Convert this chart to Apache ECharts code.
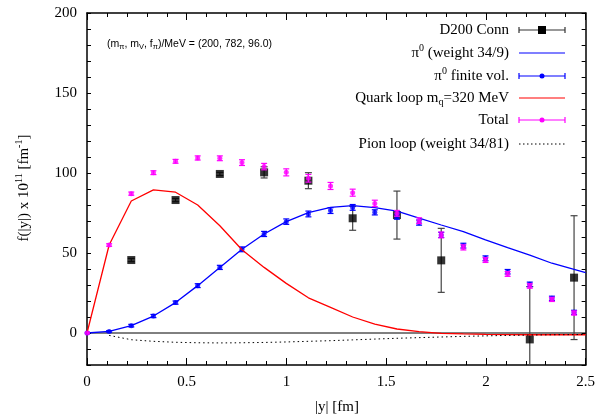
<!DOCTYPE html>
<html>
<head>
<meta charset="utf-8">
<script src="https://cdn.jsdelivr.net/npm/echarts@6/dist/echarts.min.js"></script>
<style>
  html, body { margin: 0; padding: 0; background: #fff; }
  #chart { width: 598px; height: 419px; }
</style>
</head>
<body>
<div id="chart"></div>
<script>
// sample positions |y| in fm
const xGrid = [0, 0.111, 0.222, 0.333, 0.444, 0.555, 0.666, 0.777, 0.888, 0.999, 1.11, 1.221,
  1.332, 1.443, 1.554, 1.665, 1.776, 1.887, 1.998, 2.109, 2.22, 2.331, 2.442];
const xCurve = xGrid.concat([2.5]);

// curves
const quarkLoop = [0, 55, 82.5, 89.5, 88, 80, 67, 52, 41, 31, 22, 16, 10, 5.5, 2.5, 0.8, -0.2,
  -0.6, -0.9, -1, -1.1, -1.1, -1.1, -1.1];
const pi0Curve = [0, 1, 4.6, 10.6, 19, 29.6, 41, 52.3, 61.9, 69.6, 75.2, 78.5, 79.6, 78.4, 76.2,
  71.8, 67.5, 63.3, 58.2, 53.3, 48.7, 43.6, 39.8, 37.7];
const pionLoopX = xCurve.slice(1);
const pionLoop = [-1.5, -4.2, -5.2, -5.8, -6.1, -6.2, -6.1, -5.9, -5.6, -5.2, -4.8, -4.3, -3.8,
  -3.3, -2.9, -2.5, -2.1, -1.8, -1.5, -1.3, -1.1, -1.0, -0.9];

// points with errors
const pi0FV = [0, 1, 4.6, 10.6, 19, 29.6, 41, 52.3, 61.9, 69.6, 74.4, 76.5, 78.5, 75.4, 72.7, 69,
  61.3, 54.6, 46.7, 38.3, 30.4, 21.7, 12.9];
const pi0FVErr = [0.5, 0.5, 0.8, 1, 1, 1.2, 1.3, 1.5, 1.6, 1.7, 1.8, 1.8, 1.8, 1.6, 1.6, 1.6,
  1.6, 1.5, 1.5, 1.4, 1.4, 1.3, 1.3];
const total = [0, 55, 87.1, 100.2, 107.3, 109.4, 109.2, 106.5, 104, 100.4, 96.7, 91.9, 87.7, 81,
  74.8, 70.2, 61.3, 53.5, 45.6, 36.9, 29.4, 21, 12.5];
const totalErr = [0.5, 0.8, 1, 1.2, 1.2, 1.3, 1.5, 1.8, 2, 2.2, 2.4, 2.2, 2.2, 2, 1.8, 1.8, 1.8,
  1.6, 1.5, 1.5, 1.4, 1.3, 1.3];
const d200X = [0.222, 0.444, 0.666, 0.888, 1.11, 1.332, 1.554, 1.776, 2.22, 2.442];
const d200 = [45.6, 83.1, 99.4, 100.4, 95.2, 71.7, 73.7, 45.4, -4, 34.6];
const d200Err = [1, 1, 1, 3.5, 5, 7.5, 15, 20, 33, 38.7];

const xTicks = [0, 0.5, 1, 1.5, 2, 2.5];
const yTicks = [0, 50, 100, 150, 200];

const serif = '"Liberation Serif", "DejaVu Serif", serif';

function pairs(xs, ys) { return ys.map((v, i) => [xs[i], v]); }
function triples(xs, ys, es) { return ys.map((v, i) => [xs[i], v, es[i]]); }

function errBars(color, cap) {
  return function (params, api) {
    const x = api.value(0), y = api.value(1), e = api.value(2);
    const lo = api.coord([x, y - e]);
    const hi = api.coord([x, y + e]);
    const st = { stroke: color, lineWidth: 1.2 };
    return {
      type: 'group',
      children: [
        { type: 'line', shape: { x1: lo[0], y1: lo[1], x2: hi[0], y2: hi[1] }, style: st },
        { type: 'line', shape: { x1: lo[0] - cap, y1: lo[1], x2: lo[0] + cap, y2: lo[1] }, style: st },
        { type: 'line', shape: { x1: hi[0] - cap, y1: hi[1], x2: hi[0] + cap, y2: hi[1] }, style: st }
      ]
    };
  };
}

const axisCommon = {
  axisLine: { show: true, onZero: false, lineStyle: { color: '#000', width: 1.5 } },
  axisTick: { show: true, inside: true, length: 7, lineStyle: { color: '#000' } },
  minorTick: { show: true, splitNumber: 5, length: 4, lineStyle: { color: '#000' } },
  splitLine: { show: false },
  minorSplitLine: { show: false }
};

const chart = echarts.init(document.getElementById('chart'));

// legend drawn as graphic (gnuplot style: text right, sample on the right)
const legRows = ['D200 Conn', 'π⁰ (weight 34/9)', 'π⁰ finite vol.', 'Quark loop m_q=320 MeV', 'Total', 'Pion loop (weight 34/81)'];
const legY = [30, 53, 76, 98, 120, 144];
const lx1 = 519, lx2 = 565, lxm = 542, ltx = 509;
const legend = [];
function seg(x1, y1, x2, y2, color, w, dash) {
  return { type: 'line', shape: { x1, y1, x2, y2 }, style: { stroke: color, lineWidth: w || 1.2, lineDash: dash }, z: 100 };
}
function capped(y, color) {
  return [seg(lx1, y, lx2, y, color), seg(lx1, y - 3, lx1, y + 3, color), seg(lx2, y - 3, lx2, y + 3, color)];
}
legend.push({ type: 'text', x: ltx, y: legY[0], style: { text: 'D200 Conn', font: '15px ' + serif, fill: '#000', align: 'right', verticalAlign: 'middle' }, z: 100 });
legend.push(...capped(legY[0], '#333'));
legend.push({ type: 'rect', shape: { x: lxm - 4, y: legY[0] - 4, width: 8, height: 8 }, style: { fill: '#000' }, z: 101 });

legend.push({ type: 'text', x: ltx, y: legY[1], style: { text: '{t|π}{s|0}{t| (weight 34/9)}', rich: { t: { font: '15px ' + serif, fill: '#000' }, s: { font: '10px ' + serif, fill: '#000', verticalAlign: 'bottom', padding: [0, 0, 10, 0] } }, align: 'right', verticalAlign: 'middle' }, z: 100 });
legend.push(seg(lx1, legY[1], lx2, legY[1], '#0000ff'));

legend.push({ type: 'text', x: ltx, y: legY[2], style: { text: '{t|π}{s|0}{t| finite vol.}', rich: { t: { font: '15px ' + serif, fill: '#000' }, s: { font: '10px ' + serif, fill: '#000', verticalAlign: 'bottom', padding: [0, 0, 10, 0] } }, align: 'right', verticalAlign: 'middle' }, z: 100 });
legend.push(...capped(legY[2], '#0000ff'));
legend.push({ type: 'circle', shape: { cx: lxm, cy: legY[2], r: 2.5 }, style: { fill: '#0000ff' }, z: 101 });

legend.push({ type: 'text', x: ltx, y: legY[3], style: { text: '{t|Quark loop m}{b|q}{t|=320 MeV}', rich: { t: { font: '15px ' + serif, fill: '#000' }, b: { font: '10px ' + serif, fill: '#000', verticalAlign: 'top', padding: [8, 0, 0, 0] } }, align: 'right', verticalAlign: 'middle' }, z: 100 });
legend.push(seg(lx1, legY[3], lx2, legY[3], '#ff0000'));

legend.push({ type: 'text', x: ltx, y: legY[4], style: { text: 'Total', font: '15px ' + serif, fill: '#000', align: 'right', verticalAlign: 'middle' }, z: 100 });
legend.push(...capped(legY[4], '#ff00ff'));
legend.push({ type: 'circle', shape: { cx: lxm, cy: legY[4], r: 2.5 }, style: { fill: '#ff00ff' }, z: 101 });

legend.push({ type: 'text', x: ltx, y: legY[5], style: { text: 'Pion loop (weight 34/81)', font: '15px ' + serif, fill: '#000', align: 'right', verticalAlign: 'middle' }, z: 100 });
legend.push(seg(lx1, legY[5], lx2, legY[5], '#000', 1, [1.5, 2.5]));

// annotation
legend.push({ type: 'text', x: 107, y: 44, style: {
  text: '{t|(m}{b|π}{t|, m}{b|V}{t|, f}{b|π}{t|)/MeV = (200, 782, 96.0)}',
  rich: { t: { font: '10.5px "Liberation Sans", Arial, sans-serif', fill: '#000' }, b: { font: '7.5px "Liberation Sans", Arial, sans-serif', fill: '#000', verticalAlign: 'top', padding: [6, 0, 0, 0] } },
  verticalAlign: 'middle' }, z: 100 });

// axis names
legend.push({ type: 'text', x: 24, y: 188, rotation: Math.PI / 2, style: {
  text: '{t|f(|y|) x 10}{s|11}{t| [fm}{s|-1}{t|]}',
  rich: { t: { font: '15px ' + serif, fill: '#000' }, s: { font: '10px ' + serif, fill: '#000', verticalAlign: 'bottom', padding: [0, 0, 10, 0] } },
  align: 'center', verticalAlign: 'middle' }, z: 100 });
legend.push({ type: 'text', x: 337, y: 407, style: { text: '|y| [fm]', font: '15px ' + serif, fill: '#000', align: 'center', verticalAlign: 'middle' }, z: 100 });

const option = {
  animation: false,
  backgroundColor: '#fff',
  grid: { left: 87, right: 11, top: 13, bottom: 54 },
  xAxis: [
    Object.assign({}, axisCommon, {
      type: 'value', min: 0, max: 2.5, interval: 0.5, position: 'bottom',
      axisLabel: { color: '#000', fontFamily: serif, fontSize: 15, margin: 10, formatter: v => xTicks.includes(v) ? String(v) : '' }
    }),
    Object.assign({}, axisCommon, {
      type: 'value', min: 0, max: 2.5, interval: 0.5, position: 'top', axisLabel: { show: false }
    })
  ],
  yAxis: [
    Object.assign({}, axisCommon, {
      type: 'value', min: -20, max: 200, position: 'left',
      axisLabel: { color: '#000', fontFamily: serif, fontSize: 15, margin: 10, formatter: v => yTicks.includes(v) ? String(v) : '' },
      interval: 10,
      axisTick: { show: true, inside: true, length: 4, lineStyle: { color: '#000' } },
      minorTick: { show: false }
    }),
    Object.assign({}, axisCommon, {
      type: 'value', min: -20, max: 200, position: 'right', interval: 10, axisLabel: { show: false },
      axisTick: { show: true, inside: true, length: 4, lineStyle: { color: '#000' } },
      minorTick: { show: false }
    })
  ],
  graphic: legend,
  series: [
    {
      name: 'zero', type: 'line', data: [[0, 0], [2.5, 0]], symbol: 'none',
      lineStyle: { color: '#000', width: 1 }, z: 1, silent: true
    },
    {
      name: 'D200 err', type: 'custom', renderItem: errBars('#444', 3.5),
      data: triples(d200X, d200, d200Err), encode: { x: 0, y: 1 }, clip: true, z: 2
    },
    {
      name: 'D200 Conn', type: 'scatter', data: pairs(d200X, d200), symbol: 'rect', symbolSize: 8,
      itemStyle: { color: '#000' }, z: 3
    },
    {
      name: 'pi0', type: 'line', data: pairs(xCurve, pi0Curve), symbol: 'none',
      lineStyle: { color: '#0000ff', width: 1.3 }, z: 4
    },
    {
      name: 'pi0 fv err', type: 'custom', renderItem: errBars('#0000ff', 3),
      data: triples(xGrid, pi0FV, pi0FVErr), encode: { x: 0, y: 1 }, clip: true, z: 5
    },
    {
      name: 'pi0 finite vol.', type: 'scatter', data: pairs(xGrid, pi0FV), symbol: 'circle', symbolSize: 5,
      itemStyle: { color: '#0000ff' }, z: 6
    },
    {
      name: 'Quark loop', type: 'line', data: pairs(xCurve, quarkLoop), symbol: 'none',
      lineStyle: { color: '#ff0000', width: 1.3 }, z: 7
    },
    {
      name: 'total err', type: 'custom', renderItem: errBars('#ff00ff', 3),
      data: triples(xGrid, total, totalErr), encode: { x: 0, y: 1 }, clip: true, z: 8
    },
    {
      name: 'Total', type: 'scatter', data: pairs(xGrid, total), symbol: 'circle', symbolSize: 5,
      itemStyle: { color: '#ff00ff' }, z: 9
    },
    {
      name: 'Pion loop', type: 'line', data: pairs(pionLoopX, pionLoop), symbol: 'none',
      lineStyle: { color: '#000', width: 1, type: [1.5, 3] }, z: 10
    }
  ]
};
chart.setOption(option);
</script>
</body>
</html>
